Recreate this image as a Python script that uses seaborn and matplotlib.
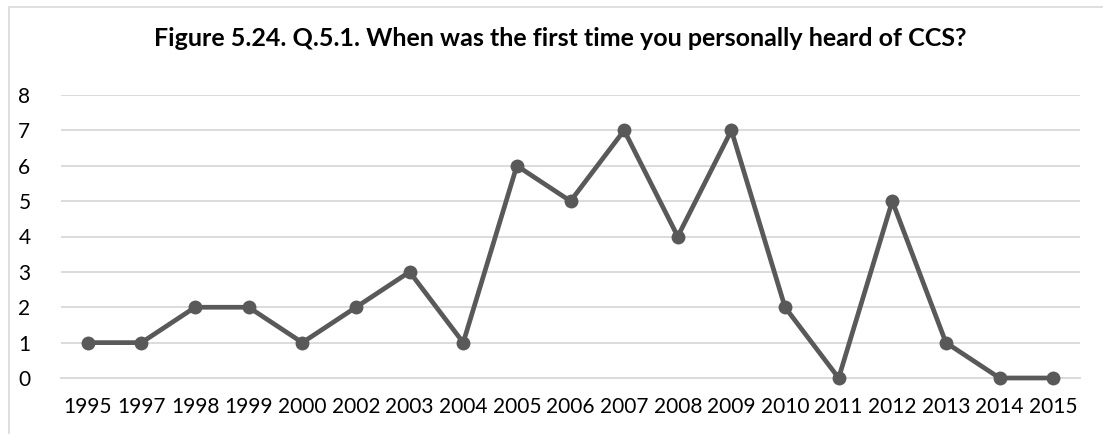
import matplotlib
matplotlib.use("Agg")
import matplotlib.pyplot as plt
import seaborn as sns
import pandas as pd
from matplotlib.patches import Rectangle

years = ["1995", "1997", "1998", "1999", "2000", "2002", "2003", "2004", "2005", "2006",
         "2007", "2008", "2009", "2010", "2011", "2012", "2013", "2014", "2015"]
counts = [1, 1, 2, 2, 1, 2, 3, 1, 6, 5, 7, 4, 7, 2, 0, 5, 1, 0, 0]
y_ticks = [0, 1, 2, 3, 4, 5, 6, 7, 8]
title = "Figure 5.24. Q.5.1. When was the first time you personally heard of CCS?"

sns.set_theme(style="white")
plt.rcParams["font.family"] = ["Lato", "DejaVu Sans"]

df = pd.DataFrame({"pos": range(len(years)), "year": years, "count": counts})

fig = plt.figure(figsize=(11.03, 4.34), dpi=100)
ax = fig.add_axes([61 / 1103, 1 - 378 / 434, (1080 - 61) / 1103, (378 - 95) / 434])

line_color = "#595959"
sns.lineplot(data=df, x="pos", y="count", ax=ax, color=line_color, linewidth=3.4,
             marker="o", markersize=10, markeredgewidth=0, sort=False,
             clip_on=False, zorder=5)

ax.set_xlim(-0.5, len(years) - 0.5)
ax.set_ylim(0, 8)
ax.set_xticks(range(len(years)))
ax.set_xticklabels(years)
ax.set_yticks(y_ticks)
ax.set_yticklabels([str(v) for v in y_ticks])
ax.set_xlabel("")
ax.set_ylabel("")
ax.grid(axis="y", color="#d9d9d9", linewidth=1.3)
ax.grid(axis="x", visible=False)
ax.set_axisbelow(True)
for side in ["top", "right", "left"]:
    ax.spines[side].set_visible(False)
ax.spines["bottom"].set_color("#d9d9d9")
ax.spines["bottom"].set_linewidth(1.3)
ax.spines["bottom"].set_zorder(1)
ax.tick_params(axis="both", length=0, labelsize=15, colors="#000000")
ax.tick_params(axis="x", pad=14)
ax.tick_params(axis="y", pad=22)

fig.text(0.508, 1 - 38 / 434, title, ha="center", va="center",
         fontsize=18, fontweight="bold", color="#000000")

# outer chart-area frame
fig.patches.append(Rectangle((9 / 1103, -0.1), 1.2, 1 - 7 / 434 + 0.1,
                             transform=fig.transFigure, fill=False,
                             edgecolor="#d9d9d9", linewidth=1.2))

fig.savefig("out.png", dpi=100, facecolor="white")
